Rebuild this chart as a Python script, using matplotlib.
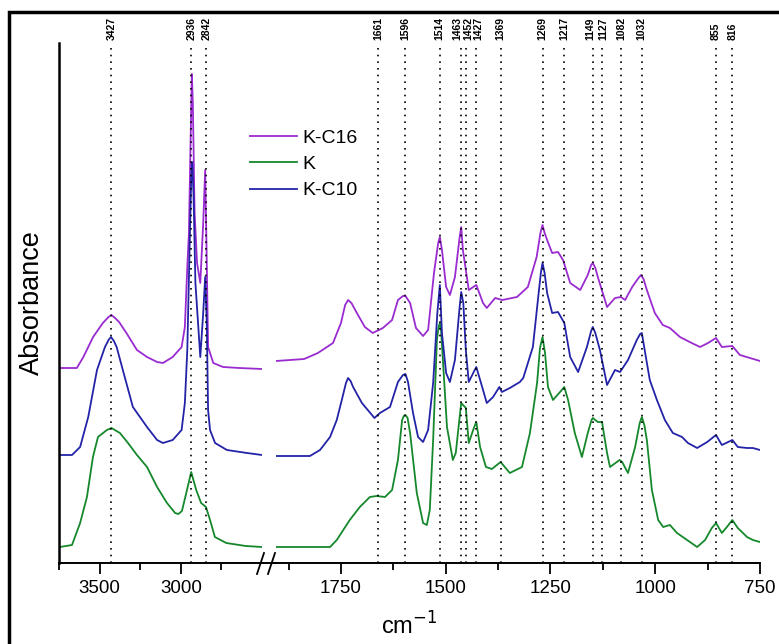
import matplotlib.pyplot as plt
from matplotlib.lines import Line2D
from matplotlib.patches import Rectangle
from matplotlib.ticker import FixedLocator
import matplotlib.transforms as mtransforms

plt.rcParams['font.family'] = ['Liberation Sans', 'DejaVu Sans']

# FTIR spectra (absorbance, offset per sample)
k_wn = [3745, 3670, 3620, 3578, 3541, 3510, 3455, 3427, 3375, 3325, 3270, 3208, 3146, 3085,
        3035, 3015, 2993, 2962, 2936, 2905, 2875, 2845, 2820, 2790, 2720, 2600, 2500,
        1905, 1776, 1760, 1729, 1705, 1681, 1665, 1645, 1628, 1614, 1604, 1600, 1596, 1591,
        1585, 1569, 1554, 1545, 1538, 1530, 1521, 1517, 1514, 1511, 1507, 1497, 1483, 1476,
        1467, 1463, 1452, 1445, 1432, 1427, 1418, 1404, 1390, 1369, 1359, 1347, 1318, 1299,
        1282, 1275, 1269, 1263, 1256, 1244, 1225, 1217, 1208, 1192, 1175, 1161, 1152, 1149,
        1137, 1127, 1115, 1108, 1085, 1079, 1065, 1048, 1037, 1032, 1026, 1020, 1008, 993,
        981, 965, 948, 924, 900, 881, 865, 855, 841, 829, 816, 803, 781, 767, 750]
k_abs = [0.16, 0.18, 0.40, 0.66, 1.06, 1.26, 1.33, 1.35, 1.30, 1.20, 1.08, 0.96, 0.76, 0.60,
         0.50, 0.49, 0.52, 0.73, 0.91, 0.73, 0.60, 0.56, 0.43, 0.26, 0.20, 0.17, 0.16,
         0.16, 0.16, 0.23, 0.43, 0.56, 0.66, 0.67, 0.66, 0.73, 1.03, 1.43, 1.47, 1.48, 1.45,
         1.30, 0.70, 0.40, 0.38, 0.53, 1.23, 2.23, 2.36, 2.40, 2.32, 2.05, 1.36, 1.03, 1.10,
         1.45, 1.60, 1.55, 1.20, 1.36, 1.41, 1.16, 0.96, 0.94, 1.01, 0.96, 0.90, 0.96, 1.30,
         1.80, 2.15, 2.26, 2.10, 1.76, 1.63, 1.72, 1.76, 1.63, 1.30, 1.06, 1.30, 1.43, 1.45,
         1.41, 1.41, 1.10, 0.96, 1.03, 1.01, 0.90, 1.16, 1.40, 1.46, 1.38, 1.23, 0.73, 0.43,
         0.36, 0.38, 0.30, 0.23, 0.16, 0.23, 0.35, 0.40, 0.30, 0.36, 0.43, 0.35, 0.26, 0.23,
         0.21]

kc10_wn = [3745, 3670, 3620, 3570, 3516, 3467, 3445, 3430, 3412, 3395, 3357, 3295, 3208, 3146,
           3110, 3050, 2995, 2975, 2960, 2948, 2936, 2930, 2922, 2910, 2880, 2862, 2850, 2840,
           2832, 2820, 2789, 2716, 2592, 2500,
           1905, 1824, 1800, 1776, 1760, 1748, 1738, 1733, 1727, 1721, 1700, 1670, 1657, 1633,
           1614, 1602, 1596, 1590, 1578, 1566, 1554, 1542, 1530, 1520, 1514, 1509, 1499, 1490,
           1478, 1467, 1463, 1458, 1452, 1445, 1432, 1427, 1413, 1402, 1387, 1372, 1366, 1347,
           1323, 1315, 1292, 1280, 1273, 1269, 1264, 1258, 1246, 1232, 1217, 1203, 1184, 1163,
           1153, 1149, 1143, 1132, 1115, 1096, 1084, 1065, 1044, 1036, 1032, 1024, 1013, 996,
           977, 958, 936, 922, 900, 876, 855, 841, 816, 803, 781, 767, 750]
kc10_abs = [1.08, 1.08, 1.16, 1.46, 1.93, 2.16, 2.23, 2.26, 2.22, 2.16, 1.93, 1.56, 1.36, 1.23,
            1.20, 1.23, 1.33, 1.60, 2.13, 3.00, 3.85, 4.01, 3.70, 2.80, 2.06, 2.50, 2.86, 2.40,
            1.53, 1.33, 1.20, 1.13, 1.10, 1.08,
            1.07, 1.07, 1.13, 1.26, 1.43, 1.63, 1.80, 1.85, 1.82, 1.76, 1.60, 1.45, 1.50, 1.56,
            1.81, 1.88, 1.89, 1.81, 1.50, 1.26, 1.21, 1.33, 1.80, 2.50, 2.78, 2.30, 1.90, 1.81,
            2.03, 2.55, 2.71, 2.60, 2.13, 1.81, 1.92, 1.96, 1.76, 1.60, 1.66, 1.76, 1.71, 1.75,
            1.81, 1.85, 2.16, 2.63, 2.90, 3.00, 2.90, 2.70, 2.50, 2.51, 2.40, 2.06, 1.91, 2.16,
            2.32, 2.36, 2.30, 2.13, 1.78, 1.93, 1.91, 2.03, 2.23, 2.29, 2.30, 2.10, 1.83, 1.63,
            1.43, 1.30, 1.26, 1.20, 1.15, 1.21, 1.28, 1.18, 1.23, 1.16, 1.15, 1.15, 1.13]

kc16_wn = [3745, 3640, 3600, 3540, 3480, 3445, 3427, 3405, 3380, 3335, 3270, 3208, 3146, 3110,
           3050, 2995, 2975, 2960, 2950, 2940, 2932, 2926, 2915, 2900, 2880, 2862, 2850, 2842,
           2832, 2800, 2740, 2640, 2500,
           1905, 1838, 1805, 1769, 1750, 1740, 1733, 1725, 1712, 1693, 1674, 1650, 1628, 1614,
           1602, 1596, 1585, 1571, 1554, 1542, 1528, 1518, 1514, 1509, 1499, 1490, 1478, 1467,
           1463, 1459, 1445, 1427, 1411, 1402, 1382, 1365, 1330, 1304, 1283, 1274, 1269, 1264,
           1258, 1246, 1232, 1220, 1203, 1179, 1161, 1153, 1149, 1143, 1137, 1115, 1096, 1082,
           1072, 1055, 1040, 1034, 1028, 1020, 1001, 982, 965, 941, 913, 893, 874, 855, 841, 816,
           798, 774, 750]
kc16_abs = [1.95, 1.95, 2.06, 2.26, 2.40, 2.46, 2.48, 2.45, 2.41, 2.30, 2.13, 2.06, 2.01, 2.00,
            2.06, 2.16, 2.36, 2.96, 3.30, 4.20, 4.89, 4.60, 3.50, 3.00, 2.80, 3.40, 3.93, 3.20,
            2.16, 2.00, 1.96, 1.95, 1.94,
            2.02, 2.04, 2.10, 2.20, 2.40, 2.58, 2.63, 2.60, 2.50, 2.36, 2.30, 2.35, 2.43, 2.63,
            2.67, 2.67, 2.60, 2.35, 2.27, 2.33, 2.90, 3.20, 3.26, 3.13, 2.76, 2.68, 2.86, 3.25,
            3.36, 3.13, 2.73, 2.78, 2.60, 2.55, 2.65, 2.63, 2.66, 2.76, 3.06, 3.30, 3.38, 3.30,
            3.23, 3.10, 3.11, 3.03, 2.80, 2.73, 2.88, 2.98, 3.00, 2.95, 2.86, 2.56, 2.65, 2.66,
            2.63, 2.76, 2.85, 2.88, 2.84, 2.73, 2.50, 2.38, 2.35, 2.26, 2.20, 2.16, 2.20, 2.25,
            2.16, 2.17, 2.08, 2.05, 2.02]

peaks = [3427, 2936, 2842, 1661, 1596, 1514, 1463, 1452, 1427, 1369, 1269, 1217,
         1149, 1127, 1082, 1032, 855, 816]
label_shift = {1463: 8, 1452: -5, 1427: -4, 1149: 5, 1127: -3}

series = [(kc16_wn, kc16_abs, '#9a2bd0', 'K-C16'),
          (k_wn, k_abs, '#15882c', 'K'),
          (kc10_wn, kc10_abs, '#2323a8', 'K-C10')]

W, H = 779, 644
fig = plt.figure(figsize=(W / 100, H / 100), dpi=100)
ax1 = fig.add_axes([59 / W, 1 - 563 / H, 203 / W, 520 / H])
ax2 = fig.add_axes([276 / W, 1 - 563 / H, 484 / W, 520 / H])

panels = [(ax1, (3750, 2500), [3500, 3000], [3750, 3250, 2750]),
          (ax2, (1905, 750), [1750, 1500, 1250, 1000, 750], [1875, 1625, 1375, 1125, 875])]

for ax, lim, major, minor in panels:
    for wn, ab, c, lab in series:
        ax.plot(wn, ab, color=c, lw=1.3, label=lab, solid_joinstyle='round')
    ax.set_xlim(lim)
    ax.set_ylim(0, 5.2)
    trans = mtransforms.blended_transform_factory(ax.transData, ax.transAxes)
    for p in peaks:
        if lim[1] < p < lim[0]:
            ax.axvline(p, ymin=0, ymax=0.99, color='k', lw=1.2, ls=(0, (1, 3)))
            ax.text(p + label_shift.get(p, 0), 1.005, str(p), transform=trans, rotation=90,
                    ha='center', va='bottom', fontsize=7.5, fontweight='bold')
    ax.xaxis.set_major_locator(FixedLocator(major))
    ax.xaxis.set_minor_locator(FixedLocator(minor))
    ax.set_yticks([])
    ax.spines['top'].set_visible(False)
    ax.spines['right'].set_visible(False)
    ax.spines['bottom'].set_linewidth(1.4)
    ax.tick_params(axis='x', which='major', length=8, width=1.3, labelsize=13.5, pad=4)
    ax.tick_params(axis='x', which='minor', length=5, width=1.3)

ax1.spines['left'].set_linewidth(1.8)
ax2.spines['left'].set_visible(False)
ax1.set_ylabel('Absorbance', fontsize=19.5, labelpad=10)

# axis break
y0 = 1 - 563 / H
fig.add_artist(Line2D([262 / W, 276 / W], [y0, y0], color='k', lw=1.4))
for xa in (257, 268):
    fig.add_artist(Line2D([xa / W, (xa + 7) / W], [1 - 574 / H, 1 - 553 / H], color='k', lw=1.3))

fig.text(409.5 / W, 1 - 626 / H, 'cm$^{-1}$', ha='center', va='center', fontsize=17)

fig.legend(handles=ax1.get_lines()[:3], loc='upper left', bbox_to_anchor=(250 / W, 1 - 129 / H),
           frameon=False, fontsize=14, handlelength=2.4, handletextpad=0.3,
           labelspacing=0.45, borderpad=0, borderaxespad=0)

# frame around the figure
fig.add_artist(Rectangle((9 / W, -0.1), 1.2, 1.1 - 12 / H, transform=fig.transFigure,
                         fill=False, lw=2.5, ec='k'))

fig.savefig('out.png', dpi=100)
